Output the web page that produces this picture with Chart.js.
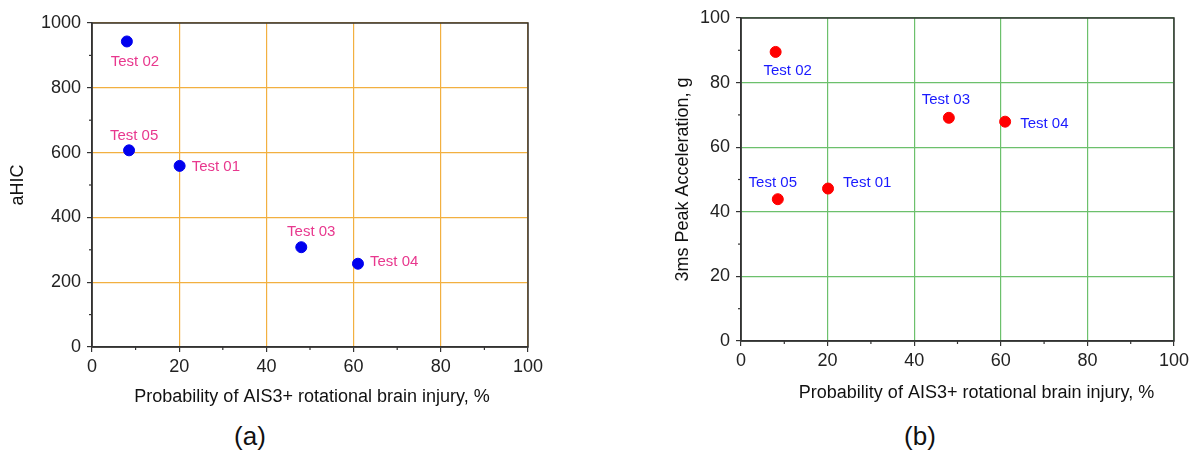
<!DOCTYPE html>
<html>
<head>
<meta charset="utf-8">
<script src="https://cdn.jsdelivr.net/npm/chart.js@4.4.1/dist/chart.umd.min.js"></script>
<style>
  body { margin: 0; background: #fff; width: 1196px; height: 455px; position: relative; overflow: hidden; font-family: "Liberation Sans", Arial, sans-serif; }
  canvas { position: absolute; top: 0; }
  #chartA { left: 0; }
  #chartB { left: 640px; }
  .panel { position: absolute; top: 421px; font-size: 26px; color: #111; transform: translateX(-50%); }
</style>
</head>
<body>
<canvas id="chartA" width="570" height="415"></canvas>
<canvas id="chartB" width="556" height="415"></canvas>
<div class="panel" style="left:250px">(a)</div>
<div class="panel" style="left:920px">(b)</div>
<script>
const testNames = ['Test 01', 'Test 02', 'Test 03', 'Test 04', 'Test 05'];
const injuryProb = [20.1, 8.0, 48.0, 61.0, 8.5];
const aHIC = [559, 943, 308, 257, 607];
const peakAccel = [47.2, 89.5, 69.1, 67.9, 43.9];

const xTicks = [0, 20, 40, 60, 80, 100];
const aHICTicks = [0, 200, 400, 600, 800, 1000];
const accelTicks = [0, 20, 40, 60, 80, 100];

const xTitle = 'Probability of AIS3+ rotational brain injury, %';

const FONT = '"Liberation Sans", Arial, sans-serif';
const AXIS = '#333333';

// label placement next to each point: [dx, dy, align]
const offsetsA = [[12, 1, 'left'], [8, 20, 'center'], [10, -15, 'center'], [12, -2, 'left'], [5, -14, 'center']];
const offsetsB = [[15, -6, 'left'], [12, 19, 'center'], [-3, -18, 'center'], [15, 2, 'left'], [-5, -16, 'center']];

const pointLabels = {
    id: 'pointLabels',
    afterDatasetsDraw(chart, args, opts) {
        const c = chart.ctx;
        const meta = chart.getDatasetMeta(0);
        c.save();
        c.font = '15px ' + FONT;
        c.fillStyle = opts.color;
        c.textBaseline = 'middle';
        meta.data.forEach((pt, i) => {
            const o = opts.offsets[i];
            c.textAlign = o[2];
            c.fillText(testNames[i], pt.x + o[0], pt.y + o[1]);
        });
        c.restore();
    }
};

// closed frame, short minor ticks and the x axis title
const frame = {
    id: 'frame',
    afterDraw(chart, args, opts) {
        const c = chart.ctx;
        const a = chart.chartArea;
        c.save();
        c.strokeStyle = AXIS;
        c.lineWidth = 1.5;
        c.strokeRect(a.left, a.top, a.right - a.left, a.bottom - a.top);
        c.lineWidth = 1.2;
        const xs = chart.scales.x, ys = chart.scales.y;
        xs.ticks.forEach(t => {
            if (!opts.xMajor.includes(t.value)) {
                const px = xs.getPixelForValue(t.value);
                c.beginPath(); c.moveTo(px, a.bottom); c.lineTo(px, a.bottom + 3); c.stroke();
            }
        });
        ys.ticks.forEach(t => {
            if (!opts.yMajor.includes(t.value)) {
                const py = ys.getPixelForValue(t.value);
                c.beginPath(); c.moveTo(a.left, py); c.lineTo(a.left - 3, py); c.stroke();
            }
        });
        c.font = '18px ' + FONT;
        c.fillStyle = '#111';
        c.textAlign = 'center';
        c.textBaseline = 'middle';
        c.fillText(xTitle, (a.left + a.right) / 2 + opts.titleDx, a.bottom + opts.titleDy);
        c.restore();
    }
};

function makeChart(id, yData, yMax, yStep, yMajor, yTitle, cfg) {
    new Chart(document.getElementById(id).getContext('2d'), {
        type: 'scatter',
        data: {
            datasets: [{
                data: injuryProb.map((x, i) => ({ x: x, y: yData[i] })),
                backgroundColor: cfg.pointColor,
                borderColor: cfg.pointColor,
                pointRadius: 5.5,
                pointHoverRadius: 5.5
            }]
        },
        options: {
            responsive: false,
            animation: false,
            layout: { padding: cfg.padding },
            scales: {
                x: {
                    type: 'linear',
                    min: 0, max: 100,
                    afterFit: s => { s.height = cfg.xHeight; },
                    border: { color: AXIS, width: 1.5 },
                    grid: {
                        color: ctx => (ctx.tick && xTicks.includes(ctx.tick.value) ? cfg.gridColor : 'transparent'),
                        tickColor: ctx => (ctx.tick && xTicks.includes(ctx.tick.value) ? AXIS : 'transparent'),
                        tickLength: 5,
                        lineWidth: 1.2
                    },
                    ticks: {
                        stepSize: 10,
                        autoSkip: false,
                        maxRotation: 0,
                        padding: 4,
                        color: '#222',
                        font: { family: FONT, size: 18 },
                        callback: v => (xTicks.includes(v) ? v : '')
                    },
                    title: { display: false }
                },
                y: {
                    type: 'linear',
                    min: 0, max: yMax,
                    afterFit: s => { s.width = cfg.yWidth; },
                    border: { color: AXIS, width: 1.5 },
                    grid: {
                        color: ctx => (ctx.tick && yMajor.includes(ctx.tick.value) ? cfg.gridColor : 'transparent'),
                        tickColor: ctx => (ctx.tick && yMajor.includes(ctx.tick.value) ? AXIS : 'transparent'),
                        tickLength: 5,
                        lineWidth: 1.2
                    },
                    ticks: {
                        stepSize: yStep,
                        autoSkip: false,
                        padding: 6,
                        color: '#222',
                        font: { family: FONT, size: 18 },
                        callback: v => (yMajor.includes(v) ? v : '')
                    },
                    title: {
                        display: true,
                        text: yTitle,
                        color: '#111',
                        font: { family: FONT, size: 18 },
                        padding: { top: cfg.yTitlePad, bottom: 0 }
                    }
                }
            },
            plugins: {
                legend: { display: false },
                tooltip: { enabled: false },
                pointLabels: { color: cfg.labelColor, offsets: cfg.offsets },
                frame: { xMajor: xTicks, yMajor: yMajor, titleDx: cfg.titleDx, titleDy: cfg.titleDy }
            }
        },
        plugins: [pointLabels, frame]
    });
}

makeChart('chartA', aHIC, 1000, 100, aHICTicks, 'aHIC', {
    pointColor: '#0000ee',
    labelColor: '#e8388e',
    gridColor: '#f2b040',
    offsets: offsetsA,
    padding: { left: 0, right: 42, top: 23, bottom: 0 },
    xHeight: 68,
    yWidth: 92,
    yTitlePad: 7,
    titleDx: 2,
    titleDy: 50
});

makeChart('chartB', peakAccel, 100, 10, accelTicks, '3ms Peak Acceleration, g', {
    pointColor: '#ff0000',
    labelColor: '#1a1aff',
    gridColor: '#6cc06c',
    offsets: offsetsB,
    padding: { left: 0, right: 22, top: 18, bottom: 0 },
    xHeight: 74,
    yWidth: 101,
    yTitlePad: 32,
    titleDx: 19,
    titleDy: 52
});
</script>
</body>
</html>
